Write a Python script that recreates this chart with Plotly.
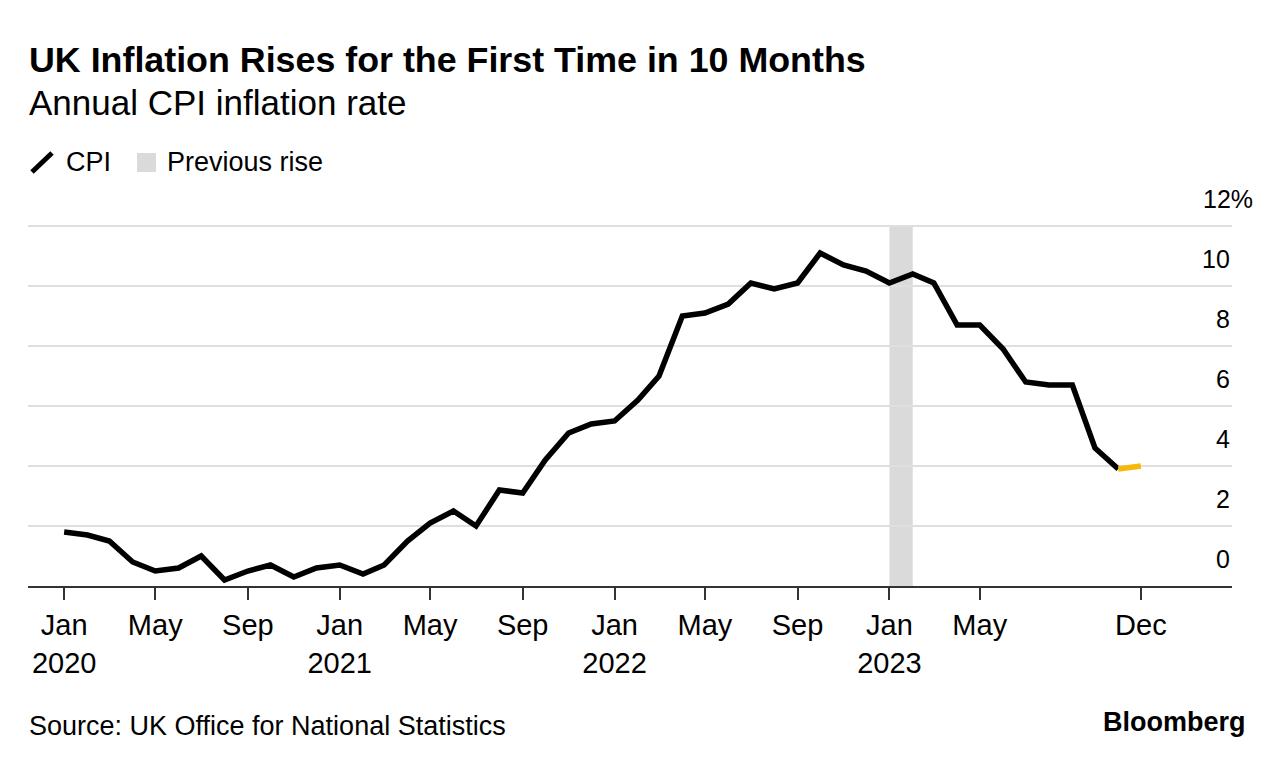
import pandas as pd
import plotly.graph_objects as go

# ---- data ----
months = pd.date_range("2020-01-01", "2023-12-01", freq="MS")
cpi = [1.8, 1.7, 1.5, 0.8, 0.5, 0.6, 1.0, 0.2, 0.5, 0.7, 0.3, 0.6,
       0.7, 0.4, 0.7, 1.5, 2.1, 2.5, 2.0, 3.2, 3.1, 4.2, 5.1, 5.4,
       5.5, 6.2, 7.0, 9.0, 9.1, 9.4, 10.1, 9.9, 10.1, 11.1, 10.7, 10.5,
       10.1, 10.4, 10.1, 8.7, 8.7, 7.9, 6.8, 6.7, 6.7, 4.6, 3.9, 4.0]
rise_start = "2023-01-01"
rise_end = "2023-02-01"
tick_dates = ["2020-01-01", "2020-05-01", "2020-09-01", "2021-01-01", "2021-05-01",
              "2021-09-01", "2022-01-01", "2022-05-01", "2022-09-01", "2023-01-01",
              "2023-05-01", "2023-12-01"]
tick_text = ["Jan<br>2020", "May", "Sep", "Jan<br>2021", "May", "Sep",
             "Jan<br>2022", "May", "Sep", "Jan<br>2023", "May", "Dec"]
y_ticks = [0, 2, 4, 6, 8, 10, 12]
y_tick_text = ["0", "2", "4", "6", "8", "10", "12%"]

title = "UK Inflation Rises for the First Time in 10 Months"
subtitle = "Annual CPI inflation rate"
source = "Source: UK Office for National Statistics"

# ---- layout geometry (pixels) ----
W, H = 1285, 768
L, R, T, B = 28, 1232, 223, 586
FONT = "Liberation Sans"
BLACK = "#000000"
YELLOW = "#f5b90a"
GRID = "#dfdfdf"
SHADE = "#dadada"


def px(x):
    return (x - L) / (R - L)


def py(y):
    return (B - y) / (B - T)


fig = go.Figure()
fig.add_trace(go.Scatter(x=months[:-1], y=cpi[:-1], mode="lines",
                         line=dict(color=BLACK, width=5.5, shape="linear"),
                         showlegend=False, cliponaxis=False, hoverinfo="x+y"))
fig.add_trace(go.Scatter(x=months[-2:], y=cpi[-2:], mode="lines",
                         line=dict(color=YELLOW, width=5.5),
                         showlegend=False, cliponaxis=False, hoverinfo="x+y"))

fig.add_shape(type="rect", xref="x", yref="y", x0=rise_start, x1=rise_end,
              y0=0, y1=12, fillcolor=SHADE, line_width=0, layer="below")

annotations = []
for v, t in zip(y_ticks, y_tick_text):
    annotations.append(dict(x=1, xref="paper", y=v, yref="y", text=t, showarrow=False,
                            xanchor="right", yanchor="middle", yshift=27,
                            xshift=23 if t.endswith("%") else 0,
                            font=dict(family=FONT, size=25, color=BLACK)))

annotations += [
    dict(x=px(27), y=py(60), xref="paper", yref="paper", text="<b>" + title + "</b>",
         showarrow=False, xanchor="left", yanchor="middle",
         font=dict(family=FONT, size=35.8, color=BLACK)),
    dict(x=px(27), y=py(102), xref="paper", yref="paper", text=subtitle,
         showarrow=False, xanchor="left", yanchor="middle",
         font=dict(family=FONT, size=35, color=BLACK)),
    dict(x=px(64), y=py(162), xref="paper", yref="paper", text="CPI",
         showarrow=False, xanchor="left", yanchor="middle",
         font=dict(family=FONT, size=27, color=BLACK)),
    dict(x=px(165), y=py(162), xref="paper", yref="paper", text="Previous rise",
         showarrow=False, xanchor="left", yanchor="middle",
         font=dict(family=FONT, size=27, color=BLACK)),
    dict(x=px(27), y=py(726), xref="paper", yref="paper", text=source,
         showarrow=False, xanchor="left", yanchor="middle",
         font=dict(family=FONT, size=27, color=BLACK)),
    dict(x=px(1248), y=py(722), xref="paper", yref="paper", text="<b>Bloomberg</b>",
         showarrow=False, xanchor="right", yanchor="middle",
         font=dict(family=FONT, size=27, color=BLACK)),
]

# legend glyphs
fig.add_shape(type="line", xref="paper", yref="paper", x0=px(32), y0=py(172),
              x1=px(52), y1=py(153), line=dict(color=BLACK, width=5))
fig.add_shape(type="rect", xref="paper", yref="paper", x0=px(137), y0=py(172),
              x1=px(156), y1=py(153), fillcolor=SHADE, line_width=0)

fig.update_layout(
    width=W, height=H,
    margin=dict(l=L, r=W - R, t=T, b=H - B, pad=0),
    paper_bgcolor="white", plot_bgcolor="white",
    showlegend=False,
    annotations=annotations,
    font=dict(family=FONT, color=BLACK),
    xaxis=dict(type="date", range=["2019-11-14", "2024-03-31"],
               tickvals=tick_dates, ticktext=tick_text,
               showgrid=False, zeroline=False,
               showline=True, linecolor="#333333", linewidth=2,
               ticks="outside", ticklen=12, tickwidth=2, tickcolor="#333333",
               tickfont=dict(family=FONT, size=29, color=BLACK),
               ticklabelstandoff=0),
    yaxis=dict(range=[0, 12.1], tickvals=y_ticks, showticklabels=False,
               showgrid=True, gridcolor=GRID, gridwidth=2, zeroline=False,
               showline=False, ticks=""),
)

fig.write_html("out.html", config={"displayModeBar": False},
               post_script="document.body.style.margin='0';document.body.style.overflow='hidden';")
